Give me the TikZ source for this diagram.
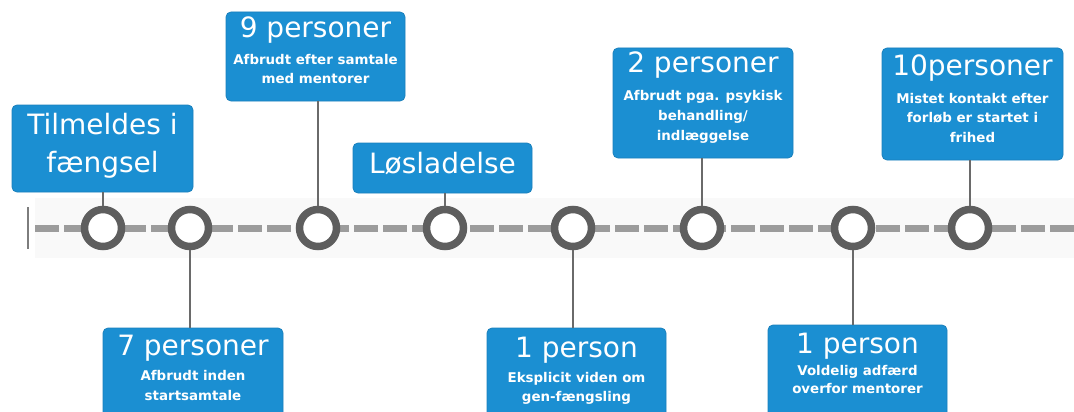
\documentclass[tikz,border=0pt]{standalone}
\usepackage{fontspec}
\setmainfont{DejaVu Sans}
\definecolor{boxblue}{HTML}{1B8FD2}
\definecolor{boxedge}{HTML}{1A80BC}
\definecolor{ringgray}{HTML}{5E5E5E}
\definecolor{dashgray}{HTML}{9C9C9C}
\definecolor{linkgray}{HTML}{6A6A6A}
\definecolor{bandgray}{HTML}{F9F9F9}
\tikzset{
  box/.style={fill=boxblue, draw=boxedge, line width=0.8pt, rounded corners=5pt, inner sep=0pt},
  ring/.style={circle, draw=ringgray, line width=7.5pt, fill=white, minimum size=37pt, inner sep=0pt},
  title/.style={text=white, anchor=base, inner sep=0pt, font=\fontsize{28}{30}\selectfont},
  sub/.style={text=white, anchor=base, inner sep=0pt, align=center, font=\bfseries\fontsize{13.4}{#1}\selectfont},
  sub/.default=19.5,
  link/.style={draw=linkgray, line width=2pt},
}
\begin{document}
\begin{tikzpicture}[x=1pt,y=-1pt]
\useasboundingbox (0,0) rectangle (1074,412);
\fill[white] (0,0) rectangle (1074,412);
\fill[bandgray] (35,198) rectangle (1074,258);
% timeline
\draw[dashgray, line width=7pt, dash pattern=on 24pt off 5pt] (35,228) -- (1074,228);
\draw[dashgray!80!black, line width=2.5pt] (28,207) -- (28,249);
% boxes
\node[box, minimum width=181pt, minimum height=87pt] (b1) at (102.5,148.5) {};
\node[box, minimum width=179pt, minimum height=89pt] (b2) at (315.5,56.5) {};
\node[box, minimum width=179pt, minimum height=50pt] (b3) at (442.5,168) {};
\node[box, minimum width=180pt, minimum height=110pt] (b4) at (703,103) {};
\node[box, minimum width=181pt, minimum height=112pt] (b5) at (972.5,104) {};
\node[box, minimum width=180pt, minimum height=112pt] (b6) at (193,384) {};
\node[box, minimum width=179pt, minimum height=112pt] (b7) at (576.5,384) {};
\node[box, minimum width=179pt, minimum height=115pt] (b8) at (857.5,382.5) {};
% rings
\node[ring] (c1) at (103,228) {};
\node[ring] (c2) at (190,228) {};
\node[ring] (c3) at (318,228) {};
\node[ring] (c4) at (445,228) {};
\node[ring] (c5) at (573,228) {};
\node[ring] (c6) at (702,228) {};
\node[ring] (c7) at (853,228) {};
\node[ring] (c8) at (970,228) {};
% connectors
\draw[link] (c1.north) -- (c1.north |- b1.south);
\draw[link] (c3.north) -- (c3.north |- b2.south);
\draw[link] (c4.north) -- (c4.north |- b3.south);
\draw[link] (c6.north) -- (c6.north |- b4.south);
\draw[link] (c8.north) -- (c8.north |- b5.south);
\draw[link] (c2.south) -- (c2.south |- b6.north);
\draw[link] (c5.south) -- (c5.south |- b7.north);
\draw[link] (c7.south) -- (c7.south |- b8.north);
% texts (sub nodes: anchor at last line's baseline)
\node[title] (t1a) at (102.5,134) {Tilmeldes i};
\node[title] (t1b) at (102.5,172) {fængsel};
\node[title] (t2) at (315.5,38) {9 personer};
\node[sub=18.5] (s2) at (315.5,83.5) {Afbrudt efter samtale\\med mentorer};
\node[title] (t3) at (442.5,173) {Løsladelse};
\node[title] (t4) at (703,73) {2 personer};
\node[sub=20] (s4) at (703,140) {Afbrudt pga. psykisk\\behandling/\\indlæggelse};
\node[title] (t5) at (972.5,75) {10personer};
\node[sub=19.5] (s5) at (972.5,142) {Mistet kontakt efter\\forløb er startet i\\frihed};
\node[title] (t6) at (193,355) {7 personer};
\node[sub=20] (s6) at (193,400) {Afbrudt inden\\startsamtale};
\node[title] (t7) at (576.5,357) {1 person};
\node[sub=19] (s7) at (576.5,401) {Eksplicit viden om\\gen-fængsling};
\node[title] (t8) at (857.5,353) {1 person};
\node[sub=18] (s8) at (857.5,393) {Voldelig adfærd\\overfor mentorer};
\end{tikzpicture}
\end{document}
